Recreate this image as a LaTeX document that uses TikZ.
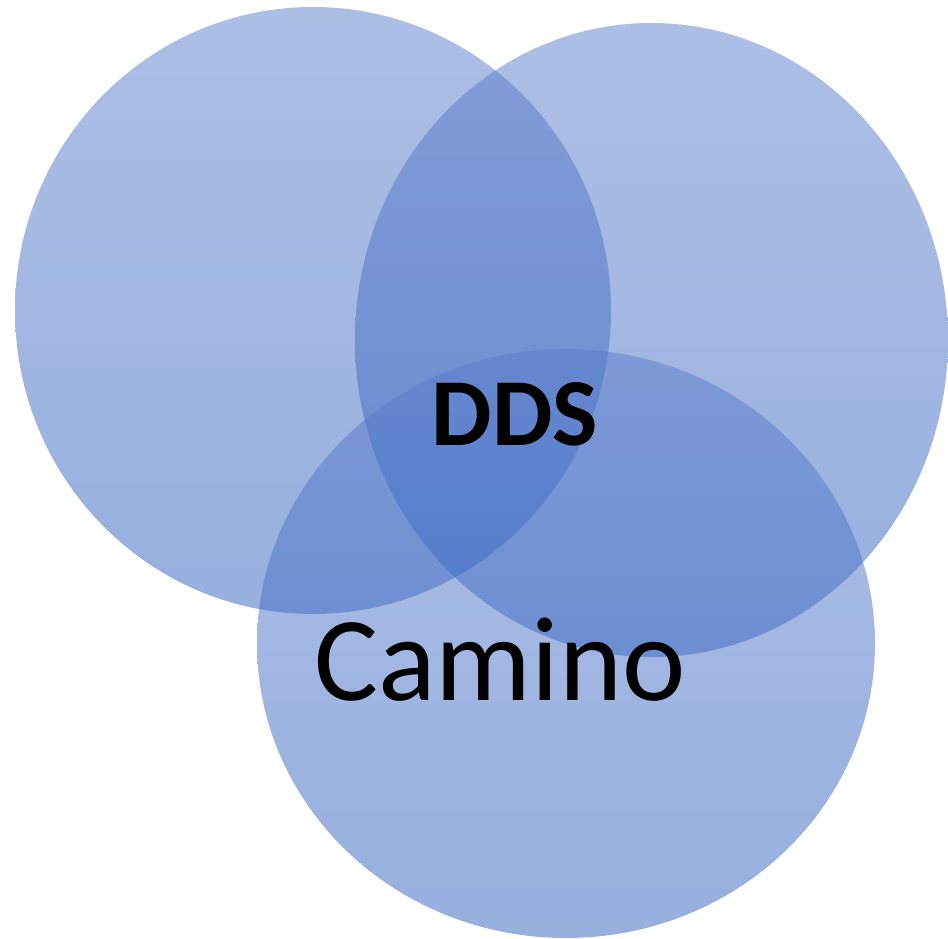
\documentclass[tikz,border=0pt]{standalone}
\usepackage{fontspec}
\setmainfont{Carlito}
\definecolor{vtop}{RGB}{92,126,204}
\definecolor{vbot}{RGB}{46,96,190}
\begin{document}
\begin{tikzpicture}[x=1pt,y=-1pt]
\tikzset{venn/.style={fill opacity=0.5, draw=none, top color=vtop, bottom color=vbot}}
\useasboundingbox (0,0) rectangle (948,939);
\path[venn] (313,310.5) ellipse [x radius=298, y radius=303.5];
\path[venn] (651.5,340) ellipse [x radius=296.5, y radius=317];
\path[venn] (566,643.5) ellipse [x radius=309, y radius=294.5];
\node[font=\bfseries\fontsize{96}{100}\selectfont, anchor=base, inner sep=0pt] (dds) at (515,445) {DDS};
\node[font=\fontsize{120}{130}\selectfont, anchor=base, inner sep=0pt] (camino) at (500,700) {Camino};
\end{tikzpicture}
\end{document}
